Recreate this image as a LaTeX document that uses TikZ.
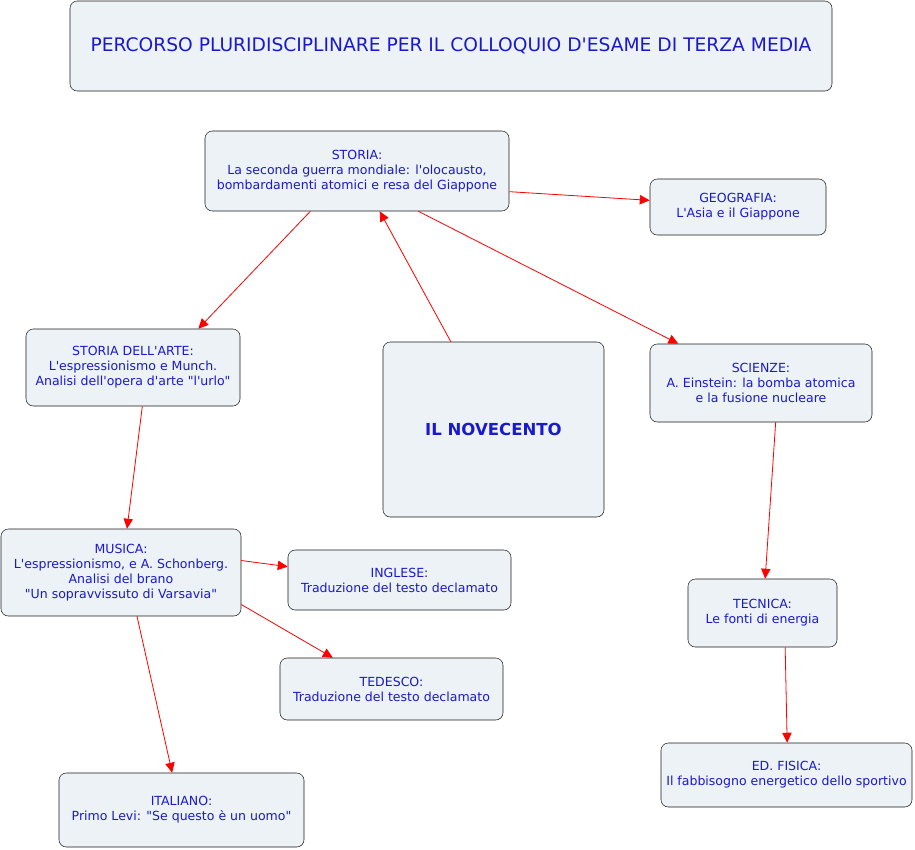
\documentclass[tikz,border=0pt]{standalone}
\usepackage{fontspec}
\setmainfont{DejaVu Sans}[Ligatures=TeXOff]
\usetikzlibrary{positioning,arrows.meta}

\definecolor{boxfill}{HTML}{ECF2F5}
\definecolor{boxtext}{HTML}{1A1ACC}

\begin{document}
\begin{tikzpicture}[
    x=0.75pt, y=-0.75pt,
    topic/.style={rectangle, rounded corners=5.5pt, draw=black!90, fill=boxfill, text=boxtext,
        align=center, inner sep=2pt, font=\fontsize{9.4}{11.2}\selectfont},
    title/.style={topic, font=\fontsize{14}{16}\selectfont},
    core/.style={topic, font=\fontsize{12.4}{14}\selectfont\bfseries},
    link/.style={-{Triangle[length=7.5pt,width=7pt]}, red, semithick}
]
    \useasboundingbox (0,0) rectangle (915,850);

    % title
    \node[title, minimum width=571.5pt, minimum height=67.5pt] (titolo) at (451,46)
        {PERCORSO PLURIDISCIPLINARE PER IL COLLOQUIO D'ESAME DI TERZA MEDIA};

    % centre of the map
    \node[core, minimum width=165.75pt, minimum height=131.25pt] (novecento) at (493.5,429.5)
        {IL NOVECENTO};

    \node[topic, minimum width=228pt, minimum height=60pt] (storia) at (357,171) {
        STORIA:\\
        La seconda guerra mondiale: l'olocausto,\\
        bombardamenti atomici e resa del Giappone
    };

    \node[topic, minimum width=132pt, minimum height=42pt] (geografia) at (738,207) {
        GEOGRAFIA:\\
        L'Asia e il Giappone
    };

    \node[topic, minimum width=160.5pt, minimum height=57.75pt] (arte) at (133,367.5) {
        STORIA DELL'ARTE:\\
        L'espressionismo e Munch.\\
        Analisi dell'opera d'arte "l'urlo"
    };

    \node[topic, minimum width=166.5pt, minimum height=58.5pt] (scienze) at (761,383) {
        SCIENZE:\\
        A. Einstein: la bomba atomica\\
        e la fusione nucleare
    };

    \node[topic, minimum width=180pt, minimum height=65.25pt] (musica) at (121,572.5) {
        MUSICA:\\
        L'espressionismo, e A. Schonberg.\\
        Analisi del brano\\
        "Un sopravvissuto di Varsavia"
    };

    \node[topic, minimum width=167.25pt, minimum height=45pt] (inglese) at (399.5,580) {
        INGLESE:\\
        Traduzione del testo declamato
    };

    \node[topic, minimum width=167.25pt, minimum height=46.5pt] (tedesco) at (391.5,689) {
        TEDESCO:\\
        Traduzione del testo declamato
    };

    \node[topic, minimum width=111.75pt, minimum height=51pt] (tecnica) at (762.5,613) {
        TECNICA:\\
        Le fonti di energia
    };

    \node[topic, minimum width=188.25pt, minimum height=48pt] (fisica) at (786.5,775) {
        ED. FISICA:\\
        Il fabbisogno energetico dello sportivo
    };

    \node[topic, minimum width=183.75pt, minimum height=55.5pt] (italiano) at (181.5,810) {
        ITALIANO:\\
        Primo Levi: "Se questo è un uomo"
    };

    % connectors
    \draw[link] ([yshift=-15.5pt]storia.east) -- ([yshift=5pt]geografia.west);
    \draw[link] ([xshift=-35pt]storia.south) -- ([xshift=49pt]arte.north);
    \draw[link] ([xshift=-32pt]novecento.north) -- ([xshift=17pt]storia.south);
    \draw[link] ([xshift=46pt]storia.south) -- ([xshift=-62pt]scienze.north);
    \draw[link] ([xshift=7pt]arte.south) -- ([xshift=4.5pt]musica.north);
    \draw[link] ([yshift=9pt]musica.east) -- ([yshift=10pt]inglese.west);
    \draw[link] ([yshift=-24pt]musica.east) -- ([xshift=-44pt]tedesco.north);
    \draw[link] ([xshift=12pt]musica.south) -- ([xshift=-7pt]italiano.north);
    \draw[link] ([xshift=11pt]scienze.south) -- ([xshift=2pt]tecnica.north);
    \draw[link] ([xshift=17pt]tecnica.south) -- ([xshift=0.5pt]fisica.north);
\end{tikzpicture}
\end{document}
